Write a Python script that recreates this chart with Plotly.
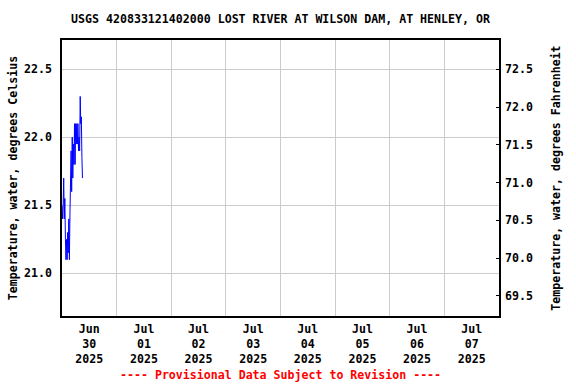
import plotly.graph_objects as go
import pandas as pd

# ---- data ----
start_time = "2025-06-30 00:00"
interval = "15min"
temps_c = [21.5, 21.4, 21.5, 21.7, 21.4, 21.55, 21.25, 21.1, 21.25, 21.1,
           21.3, 21.15, 21.4, 21.1, 21.45, 21.6, 21.9, 21.6, 22.0, 21.7,
           21.95, 21.8, 22.1, 21.8, 22.1, 21.95, 22.1, 21.95, 22.1, 21.9,
           22.0, 21.9, 22.3, 22.1, 22.15, 21.85, 21.7]
times = pd.date_range(start_time, periods=len(temps_c), freq=interval)

day_labels = ["Jun<br>30<br>2025", "Jul<br>01<br>2025", "Jul<br>02<br>2025",
              "Jul<br>03<br>2025", "Jul<br>04<br>2025", "Jul<br>05<br>2025",
              "Jul<br>06<br>2025", "Jul<br>07<br>2025"]
days = pd.date_range("2025-06-30", periods=len(day_labels), freq="D")
label_pos = days + pd.Timedelta(hours=12)
grid_pos = list(days[1:])
x_range = [days[0], days[-1] + pd.Timedelta(days=1)]

c_range = [20.686, 22.715]
c_ticks = [21.0, 21.5, 22.0, 22.5]
f_range = [c * 1.8 + 32 for c in c_range]
f_ticks = [69.5, 70.0, 70.5, 71.0, 71.5, 72.0, 72.5]

FONT = "DejaVu Sans Mono"
fs = 11.6

fig = go.Figure()
fig.add_trace(go.Scatter(x=times, y=temps_c, mode="lines",
                         line=dict(color="#0000ff", width=1), showlegend=False,
                         hoverinfo="skip"))
# invisible trace for right axis
fig.add_trace(go.Scatter(x=[times[0]], y=[temps_c[0] * 1.8 + 32], yaxis="y2",
                         mode="markers", marker=dict(opacity=0), showlegend=False,
                         hoverinfo="skip"))

fig.update_layout(
    width=576, height=384,
    margin=dict(l=58, r=77, t=40, b=68),
    paper_bgcolor="white", plot_bgcolor="white",
    font=dict(family=FONT, size=fs, color="black", weight="bold"),
    title=dict(text="USGS 420833121402000 LOST RIVER AT WILSON DAM, AT HENLEY, OR",
               x=0.5, xref="paper", xanchor="center",
               y=1 - 19 / 384, yref="container", yanchor="middle",
               font=dict(family=FONT, size=fs, color="black", weight="bold")),
    xaxis=dict(range=x_range, tickvals=list(label_pos), ticktext=day_labels,
               showgrid=False, ticks="", zeroline=False,
               showline=True, linecolor="black", linewidth=1.5, mirror=True,
               tickfont=dict(family=FONT, size=fs, weight="bold"),
               ticklabelstandoff=1,
               minor=dict(tickvals=grid_pos, showgrid=True, gridcolor="#cccccc",
                          gridwidth=1, ticks="")),
    yaxis=dict(range=c_range, tickvals=c_ticks, tickformat=".1f",
               showgrid=True, gridcolor="#cccccc", gridwidth=1, zeroline=False,
               ticks="", showline=True, linecolor="black", linewidth=1.5, mirror=True,
               ticklabelstandoff=6,
               title=dict(text="Temperature, water, degrees Celsius", standoff=4,
                          font=dict(family=FONT, size=fs, weight="bold"))),
    yaxis2=dict(range=f_range, tickvals=f_ticks, tickformat=".1f",
                overlaying="y", side="right", showgrid=False, zeroline=False,
                ticks="inside", ticklen=3, tickcolor="black",
                showline=False, ticklabelstandoff=5,
                title=dict(text="Temperature, water, degrees Fahrenheit", standoff=19,
                           font=dict(family=FONT, size=fs, weight="bold"))),
    annotations=[dict(text="---- Provisional Data Subject to Revision ----",
                      xref="paper", yref="paper", x=0.5, y=(316 - 375) / 276,
                      xanchor="center", yanchor="middle", showarrow=False,
                      font=dict(family=FONT, size=fs, color="red", weight="bold"))],
)

fig.write_html("out.html", config={"displayModeBar": False},
               post_script="document.body.style.margin='0';")
